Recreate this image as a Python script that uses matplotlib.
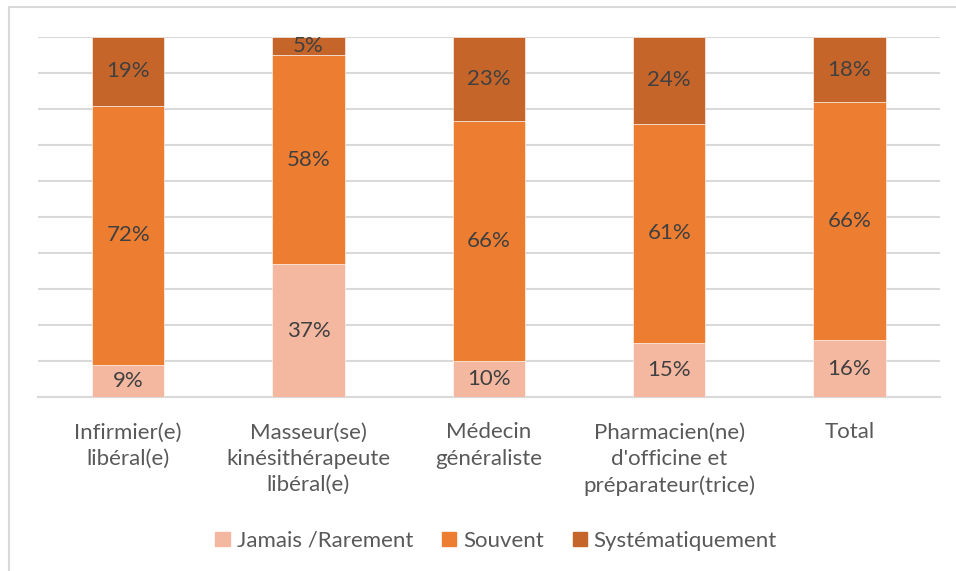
import matplotlib
matplotlib.use("Agg")
import matplotlib.pyplot as plt
import numpy as np
from matplotlib.lines import Line2D

categories = ["Infirmier(e)\nlibéral(e)", "Masseur(se)\nkinésithérapeute\nlibéral(e)",
              "Médecin\ngénéraliste", "Pharmacien(ne)\nd'officine et\npréparateur(trice)", "Total"]
series_names = ["Jamais /Rarement", "Souvent", "Systématiquement"]
jamais = [9, 37, 10, 15, 16]
souvent = [72, 58, 66, 61, 66]
systematique = [19, 5, 23, 24, 18]
colors = ["#F4B8A1", "#ED7D31", "#C5652A"]

plt.rcParams['font.family'] = ['Lato', 'DejaVu Sans']

fig = plt.figure(figsize=(9.56, 5.71), dpi=100)
ax = fig.add_axes([0.0397, 0.304, 0.9433, 0.631])

data = np.array([jamais, souvent, systematique], dtype=float)
totals = data.sum(axis=0)
frac = data / totals * 100
x = np.arange(len(categories))
bottom = np.zeros(len(categories))
for i in range(3):
    ax.bar(x, frac[i], bottom=bottom, width=0.4, color=colors[i],
           edgecolor="white", linewidth=0.4, zorder=3, label=series_names[i])
    for j in range(len(categories)):
        ax.text(x[j], bottom[j] + frac[i][j] / 2, f"{int(data[i][j])}%",
                ha="center", va="center", fontsize=16, color="#404040", zorder=4)
    bottom += frac[i]

ax.set_xlim(-0.5, 4.5)
ax.set_ylim(0, 100)
ax.set_yticks(np.arange(0, 101, 10))
ax.yaxis.grid(True, color="#D9D9D9", linewidth=1.5, zorder=0)
ax.set_yticklabels([])
ax.tick_params(axis="y", length=0)
ax.set_xticks(x)
ax.set_xticklabels(categories, fontsize=16, color="#595959", linespacing=1.4)
ax.tick_params(axis="x", length=0, pad=18)
for s in ["top", "right", "left"]:
    ax.spines[s].set_visible(False)
ax.spines["bottom"].set_color("#D9D9D9")
ax.spines["bottom"].set_linewidth(1.5)

handles = [plt.Rectangle((0, 0), 1, 1, color=c) for c in colors]
fig.legend(handles, series_names, loc="center", bbox_to_anchor=(0.519, 0.053), ncol=3,
           frameon=False, fontsize=16, handlelength=0.65, handleheight=0.65,
           handletextpad=0.3, columnspacing=1.3, labelcolor="#595959")

fig.add_artist(Line2D([9/956, 9/956], [0, 1 - 7/571], color="#D9D9D9", linewidth=1.5,
                      transform=fig.transFigure))
fig.add_artist(Line2D([9/956, 1], [1 - 7/571, 1 - 7/571], color="#D9D9D9", linewidth=1.5,
                      transform=fig.transFigure))

fig.savefig("out.png", dpi=100)
